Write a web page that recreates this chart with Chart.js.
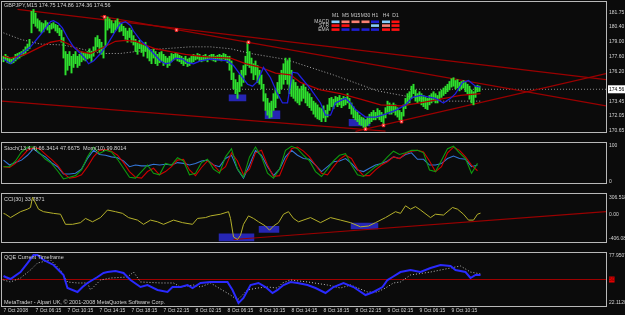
<!DOCTYPE html>
<html><head><meta charset="utf-8">
<script src="https://cdn.jsdelivr.net/npm/chart.js@4.4.1/dist/chart.umd.min.js"></script>
<style>
html,body{margin:0;padding:0;background:#0b0b0b;}
body{width:625px;height:315px;overflow:hidden;position:relative}
canvas{position:absolute;left:0;display:block}
</style></head><body>
<canvas id="cMain" width="625" height="142" style="top:0px;width:625px;height:142px"></canvas>
<canvas id="cStoch" width="625" height="51" style="top:142px;width:625px;height:51px"></canvas>
<canvas id="cCci" width="625" height="59" style="top:193px;width:625px;height:59px"></canvas>
<canvas id="cQqe" width="625" height="63" style="top:252px;width:625px;height:63px"></canvas>
<script>
// ---------------- DATA ----------------
const symbolTitle = 'GBPJPY,M15 174.75 174.86 174.36 174.56';
const lastPrice = 174.56;
const timeTickBars = [0,16,32,48,64,80,96,112,128,144,160,176,192,208,224];
const timeLabels = ['7 Oct 2008','7 Oct 06:15','7 Oct 10:15','7 Oct 14:15','7 Oct 18:15','7 Oct 22:15','8 Oct 02:15','8 Oct 06:15','8 Oct 10:15','8 Oct 14:15','8 Oct 18:15','8 Oct 22:15','9 Oct 02:15','9 Oct 06:15','9 Oct 10:15'];
const priceTicks = [170.65,172.05,173.45,174.56,176.20,177.60,179.00,180.40,181.75];

const highs = [
177.65,177.83,177.65,177.48,177.39,177.56,177.83,177.91,178.00,178.09,
178.26,178.53,178.79,179.23,181.85,182.03,181.68,181.15,180.98,180.80,
180.71,180.98,180.80,180.54,180.71,180.80,180.63,180.54,180.28,180.10,
179.40,178.09,177.83,178.09,177.65,177.83,178.09,177.65,177.83,178.09,
178.00,177.91,178.09,178.35,178.09,178.53,179.40,179.58,179.23,178.96,
178.53,181.15,181.33,181.15,180.98,180.71,180.98,181.15,180.80,180.71,
180.45,180.28,180.01,180.28,180.10,179.58,179.23,178.96,179.14,178.88,
178.70,178.96,178.53,178.26,178.09,178.35,178.09,177.83,178.00,178.09,
177.83,177.65,177.48,177.65,177.91,177.83,178.00,177.91,177.74,177.65,
177.48,177.65,177.39,177.48,177.65,177.83,177.74,177.91,177.83,177.65,
177.74,177.83,177.65,177.74,177.83,177.83,177.65,177.74,177.83,177.74,
177.91,177.83,177.65,177.65,177.21,176.08,175.46,175.20,175.90,176.34,
176.78,177.65,178.96,178.09,177.48,176.95,177.21,176.78,176.34,175.90,
175.03,174.15,173.71,173.28,173.45,174.15,174.59,175.20,175.90,176.34,
176.95,177.48,177.21,177.48,176.34,175.46,175.20,174.85,174.59,174.85,
175.03,174.76,174.33,174.15,173.80,173.45,173.28,173.10,172.84,172.75,
173.01,172.58,173.10,173.71,173.80,173.63,173.89,173.80,173.98,173.71,
173.89,173.80,174.15,173.71,173.28,172.93,172.58,172.40,172.14,171.96,
171.88,171.70,171.96,172.23,172.40,172.58,172.40,172.75,172.58,172.40,
172.23,172.84,173.45,173.28,173.10,173.28,173.10,172.84,172.58,172.40,
173.10,173.71,174.15,174.33,174.85,175.03,174.50,174.15,174.33,174.15,
173.98,173.80,173.71,173.98,174.15,174.33,174.15,173.98,174.33,174.50,
174.68,174.85,175.03,175.29,175.55,175.64,175.38,175.46,175.20,175.29,
175.38,175.20,175.03,174.85,174.50,174.33,174.85,174.94,174.86];
const lows = [
177.13,177.30,177.04,176.95,176.95,177.04,177.21,177.39,177.48,177.65,
177.74,177.91,178.18,178.35,179.84,180.71,180.45,180.28,180.01,179.84,
179.93,180.28,180.10,179.84,180.19,180.28,180.01,179.84,179.58,178.96,
177.48,175.90,176.34,176.78,176.08,176.60,176.95,176.60,176.78,177.13,
177.30,177.21,177.39,177.48,177.13,177.65,178.09,178.53,178.00,177.83,
177.48,178.53,180.10,180.28,179.84,179.84,180.10,180.28,179.93,180.01,
179.58,179.23,178.96,179.40,178.96,178.70,178.09,177.83,178.35,178.00,
177.65,178.09,177.48,177.21,176.95,177.48,176.95,176.78,177.04,177.21,
176.78,176.95,176.60,176.78,177.13,177.30,177.39,177.21,177.13,176.95,
176.78,176.95,176.69,176.78,177.04,177.13,177.30,177.39,177.21,177.13,
177.21,177.30,177.13,177.39,177.30,177.21,177.13,177.30,177.30,177.21,
177.39,177.30,177.04,176.34,175.46,174.59,174.15,173.71,174.33,174.85,
175.20,175.90,176.78,176.60,176.08,175.46,175.90,175.20,175.03,174.59,
173.45,172.58,172.14,171.88,171.96,172.58,172.84,173.71,174.15,174.59,
175.03,175.46,175.03,174.15,173.89,173.71,173.45,173.28,173.10,173.45,
173.71,173.28,173.01,172.84,172.58,172.23,171.96,171.79,171.70,171.53,
171.88,171.53,171.96,172.58,172.93,172.75,173.10,172.93,173.10,172.84,
173.01,173.10,173.28,172.75,172.23,171.88,171.70,171.53,171.26,171.18,
171.00,170.83,171.18,171.35,171.53,171.70,171.70,171.88,171.70,171.53,
171.26,171.88,172.40,172.23,172.23,172.40,172.14,171.96,171.70,171.53,
172.05,172.75,173.10,173.28,173.71,174.15,173.45,173.28,173.45,173.10,
172.93,172.75,172.66,173.10,173.28,173.45,173.28,173.28,173.63,173.80,
173.98,174.15,174.33,174.50,174.76,174.85,174.59,174.68,174.41,174.59,
174.68,174.33,174.15,173.63,173.28,173.10,173.80,174.33,174.36];

// moving averages: bar positions and values
const fastMaBars = [0,3.5,8.5,13.5,18.5,23.5,25,27.5,29.5,32,35,38.5,41,42.5,45,48.5,52,56,58.5,61,63.5,65,68.5,72,75,78.5,81,83.5,86,89.5,92,95,98.5,103.5,112,115,118.5,122,124.5,127,130,133.5,137,139.5,142,144.5,147,148.5,153.5,158.5,161,163.5,166,171,173.5,176,181,186,191,196,201,204.5,208.5,211,216,220,223.5,226,229.5,232.5,236,238.5];
const fastMa = [177.39,176.95,177.83,178.53,179.66,180.89,180.98,180.71,180.28,179.40,178.53,177.91,177.39,176.95,177.21,177.91,178.79,180.01,180.71,180.89,180.54,180.01,179.14,178.53,177.91,177.21,176.95,177.04,177.48,177.39,177.04,176.95,177.21,177.39,177.21,176.78,175.90,175.03,174.85,175.29,176.60,175.64,174.15,173.28,173.28,176.16,176.08,175.73,174.59,173.28,172.14,172.14,173.28,173.71,173.28,172.66,171.96,171.96,172.23,172.58,173.10,173.80,173.98,173.89,173.71,173.28,173.71,174.15,175.20,175.38,174.85,174.76];
const midMaBars = [0,3.5,11,18.5,23.5,28.5,33.5,38.5,43.5,48.5,56,61,66,71,76,83.5,91,98.5,103.5,113.5,121,128.5,136,143.5,148.5,158.5,168.5,178.5,188.5,198.5,208.5,218.5,228.5,238.5];
const midMa = [177.65,177.48,177.83,178.53,178.96,179.14,178.70,178.09,177.91,178.35,179.05,179.14,179.05,178.70,178.35,178.09,177.83,177.65,177.56,177.48,176.95,176.60,176.08,175.90,175.20,174.50,174.15,173.63,173.10,173.01,173.28,173.63,173.98,174.15];
const slowMaBars = [0,8.5,18.5,30,38.5,48.5,58.5,73.5,93.5,103.5,113.5,123.5,140,143.5,165,187,202,213.5,220,238.5];
const slowMa = [179.84,179.23,178.79,178.70,178.35,177.91,177.91,178.26,178.53,178.53,178.35,177.91,177.39,177.21,175.90,174.41,173.89,173.54,173.45,173.45];

// trend lines on price (start bar, start value, end bar, end value)
const trendStartBar = [7,48.5,-0.75,176];
const trendStartVal = [182.03,181.41,173.45,170.62];
const trendEndBar = [301.25,301.25,191,301.25];
const trendEndVal = [175.46,173.01,170.65,176.02];

// highlighted zones on price
const zoneStart = [112.5,130.5,172.5];
const zoneEnd = [121.5,138.5,183.5];
const zoneTop = [174.06,172.58,171.79];
const zoneBottom = [173.45,171.79,171.09];

// signal dots
const dotBars = [50.5,86.5,122.5,181,190,199];
const dotVals = [181.33,180.10,178.96,170.83,171.18,171.53];

// Stochastic / momentum, one value every 3 bars
const OSC_STEP = 3;
const stochMain = [
40.9,40.9,56.8,81.8,95.5,95.5,79.5,61.4,50.0,29.5,
6.8,11.4,15.9,31.8,68.2,95.5,77.3,86.4,81.8,61.4,
36.4,11.4,9.1,27.3,45.5,22.7,18.2,50.0,45.5,65.9,
56.8,18.2,22.7,52.3,61.4,34.1,22.7,68.2,90.9,34.1,
11.4,68.2,95.5,68.2,22.7,9.1,34.1,86.4,97.7,90.9,
72.7,56.8,27.3,13.6,34.1,56.8,72.7,77.3,45.5,18.2,
13.6,27.3,40.9,50.0,68.2,84.1,75.0,79.5,86.4,86.4,
79.5,31.8,27.3,59.1,90.9,97.7,79.5,63.6,22.7,50.0];
const stochSignal = [
40.9,38.6,50.0,68.2,86.4,93.2,90.9,75.0,61.4,45.5,
22.7,9.1,11.4,18.2,40.9,68.2,86.4,88.6,84.1,72.7,
52.3,27.3,11.4,9.1,27.3,36.4,18.2,27.3,40.9,59.1,
61.4,31.8,15.9,38.6,56.8,45.5,27.3,40.9,79.5,56.8,
18.2,34.1,79.5,86.4,45.5,13.6,15.9,56.8,90.9,95.5,
84.1,68.2,45.5,22.7,18.2,40.9,61.4,72.7,63.6,34.1,
15.9,15.9,31.8,45.5,54.5,68.2,63.6,77.3,84.1,86.4,
81.8,56.8,27.3,40.9,79.5,95.5,86.4,68.2,45.5,29.5];
const momentum = [
59.1,45.5,52.3,59.1,72.7,90.9,77.3,68.2,52.3,40.9,
20.5,20.5,22.7,34.1,63.6,86.4,75.0,72.7,68.2,65.9,
56.8,40.9,45.5,43.2,43.2,47.7,45.5,47.7,45.5,52.3,
50.0,45.5,50.0,56.8,59.1,45.5,40.9,63.6,72.7,34.1,
9.1,45.5,86.4,72.7,40.9,15.9,34.1,68.2,86.4,72.7,
63.6,61.4,45.5,27.3,40.9,54.5,56.8,63.6,50.0,31.8,
27.3,36.4,45.5,50.0,56.8,68.2,63.6,75.0,79.5,61.4,
61.4,45.5,45.5,50.0,63.6,70.5,63.6,61.4,40.9,45.5];

// CCI
const cciBars = [0,1,3.5,8.5,12,13.5,14.5,15,17.5,20,25,28.5,31,34.5,38.5,41,44.5,48.5,52,56,59.5,62.5,67,70,73.5,77,80,85,89.5,94.5,97,101,103.5,108.5,112.5,113.5,115,117,118.5,120,122.5,125,127.5,131,133,135,137.5,140,142.5,145,147.5,153.5,158.5,163.5,168.5,173.5,178.5,182.5,186,191,196,198.5,201,203.5,206,208.5,213.5,216,220,224.5,227,230,232.5,235,237,238.5];
const cci = [30.2,15.7,-42.5,59.3,102.9,132.0,306.5,277.4,102.9,59.3,30.2,15.7,-158.8,-158.8,-129.7,-57.0,-115.2,-42.5,88.4,59.3,30.2,-42.5,-86.1,-158.8,-86.1,-115.2,-158.8,-86.1,-129.7,-158.8,-57.0,-42.5,-13.4,15.7,59.3,-57.0,-376.9,-420.5,-347.8,-158.8,-13.4,-57.0,-115.2,-187.9,-260.6,-187.9,-129.7,15.7,59.3,-57.0,-115.2,-42.5,-129.7,-42.5,-86.1,-129.7,-202.4,-187.9,-129.7,-42.5,59.3,30.2,161.1,102.9,146.6,88.4,-42.5,15.7,1.2,132.0,102.9,15.7,-86.1,-86.1,15.7,33.8];
const cciTicks = [306.518,0,-406.081];
const cciTickLabels = ['306.5180','0.00','-406.0810'];
const cciZoneStart = [107.5,127.5,173.5];
const cciZoneEnd = [125.5,138,187.5];
const cciZoneTop = [-318.7,-187.9,-129.7];
const cciZoneBottom = [-449.6,-304.2,-246.0];
const cciTrendBars = [115,301.25];
const cciTrendVals = [-420.5,59.3];

// QQE
const qqeBars = [0,1,3.5,8.5,12,15,17,20,25,30,32,34.5,37,39.5,42,47,50,52,56,60,63.5,68.5,72,77,82,84.5,88.5,92,94.5,98.5,103.5,112,114.5,117.5,120,123.5,127.5,131,134.5,137,140,143.5,147,152,156,161,165,170,175,181,185,189.5,192,194.5,198.5,203.5,208.5,213.5,218.5,223.5,226,231,233.5,236,238.5];
const qqe = [54.2,53.0,50.6,58.9,69.6,79.1,79.1,73.2,67.3,55.4,39.9,37.6,35.2,41.1,45.9,53.0,57.8,58.9,60.1,57.8,49.4,41.1,43.5,37.6,35.2,41.1,41.1,43.5,39.9,45.9,47.1,47.1,37.6,22.1,28.1,43.5,45.9,41.1,34.0,37.6,43.5,47.1,45.9,43.5,39.9,34.0,41.1,45.9,41.1,31.6,35.2,41.1,49.4,53.0,58.9,61.3,58.9,63.7,67.3,66.1,61.3,58.9,51.8,55.4,55.4];
const qqeSlowBars = [0,3.5,8.5,13.5,17,23.5,28.5,32,37,42,43.5,48.5,53.5,62,65,68.5,78.5,85,88.5,95,98.5,103.5,113.5,117,122,127,132,137,139.5,143.5,152,162,168.5,173.5,182,187,191,195,198.5,203.5,213.5,223.5,228.5,233.5,238.5];
const qqeSlow = [49.4,47.1,51.8,61.3,69.6,73.2,61.3,47.1,45.9,45.9,37.6,49.4,51.8,53.0,58.9,47.1,45.9,45.9,41.1,43.5,41.1,45.9,31.6,25.7,37.6,39.9,41.1,39.9,45.9,49.4,47.1,43.5,39.9,43.5,35.2,35.2,39.9,45.9,47.1,55.4,58.9,63.7,66.1,58.9,56.6];
const qqeLevel = 50;
const qqeTicks = [77.9507,50,22.112];
const qqeTickLabels = ['77.9507','50','22.1120'];

// multi-timeframe table
const mtfPeriods = ['M1','M5','M15','M30','H1','H4','D1'];
const mtfRows = ['MACD','STR','EMA'];
const mtfStates = [
  ['lb','sa','sa','sa','bl','lb','rd'],
  ['rd','rd','','','lb','sa','rd'],
  ['rd','bl','bl','bl','bl','rd','rd']];

// ---------------- STYLE / LAYOUT ----------------
const BG = '#0b0b0b', FRAME = '#b8b8b8', TXT = '#d4d4d4';
const FF = '"Liberation Sans", Arial, sans-serif';
const FS = 5;
const X_MIN = -0.75, X_MAX = 301.25;
const stateColor = {lb:'#87cefa', sa:'#fa8072', rd:'#ff1010', bl:'#1f1fd0'};

const pts = (xs, ys) => xs.map((x, k) => ({x, y: ys[k]}));
const gridPts = (ys, step) => ys.map((y, k) => ({x: k * step, y}));
const seg = (x1, y1, x2, y2) => [{x: x1, y: y1}, {x: x2, y: y2}];

const bgFrame = {
  id: 'bgFrame',
  beforeDraw(chart) {
    const c = chart.ctx; c.save(); c.fillStyle = BG; c.fillRect(0, 0, chart.width, chart.height); c.restore();
  },
  afterDraw(chart) {
    const c = chart.ctx, a = chart.chartArea; c.save();
    c.strokeStyle = FRAME; c.lineWidth = 1;
    c.strokeRect(a.left - 0.5, a.top - 0.5, a.right - a.left + 1, a.bottom - a.top + 1);
    c.restore();
  }
};
const panelText = {
  id: 'panelText',
  afterDraw(chart, args, opts) {
    const c = chart.ctx; c.save();
    c.font = '5.5px ' + FF; c.textBaseline = 'middle';
    (opts.items || []).forEach(it => { c.fillStyle = it.color || TXT; c.textAlign = it.align || 'left'; c.fillText(it.text, it.x, it.y); });
    if (opts.mtf) {
      const colX = [335.5,345.5,355.5,365.5,375,386,395.5];
      const rowY = [21.7,25.5,29.5];
      c.font = '5px ' + FF;
      c.textAlign = 'center'; c.fillStyle = '#c8c8c8';
      mtfPeriods.forEach((p, k) => c.fillText(p, colX[k], 16));
      c.textAlign = 'right';
      mtfRows.forEach((r, k) => c.fillText(r, 329, rowY[k]));
      mtfStates.forEach((row, r) => row.forEach((s, k) => {
        if (!s) return;
        c.fillStyle = stateColor[s];
        c.fillRect(colX[k] - 4, rowY[r] - 1.2, 8, 2.6);
      }));
    }
    c.restore();
  }
};

function xAxis(display) {
  return {
    type: 'linear', min: X_MIN, max: X_MAX, offset: false, display,
    grid: {display: false, drawTicks: false}, border: {display: false},
    afterBuildTicks: s => { s.ticks = timeTickBars.map(v => ({value: v})); },
    afterFit: s => { s.height = 9; s.paddingLeft = 0; s.paddingRight = 0; },
    ticks: {autoSkip: false, maxRotation: 0, align: 'start', padding: 2, color: TXT,
      font: {family: FF, size: FS}, callback: (v, i) => timeLabels[i]}
  };
}
function yAxis(min, max, tickVals, labelFn, extra) {
  return {
    type: 'linear', position: 'right', min, max,
    grid: {display: false, drawTicks: false}, border: {display: false},
    afterBuildTicks: s => { s.ticks = tickVals.map(v => ({value: v})); },
    afterFit: s => { s.width = 19; s.paddingTop = 0; s.paddingBottom = 0; },
    ticks: Object.assign({autoSkip: false, padding: 3, color: TXT, font: {family: FF, size: FS},
      callback: labelFn}, extra || {})
  };
}
const baseOpts = (pad, scales, plugins) => ({
  responsive: false, animation: false, events: [],
  layout: {padding: pad, autoPadding: false},
  scales,
  plugins: Object.assign({legend: {display: false}, tooltip: {enabled: false}}, plugins),
  elements: {point: {radius: 0}, line: {tension: 0}}
});
const lineDs = (data, color, width, order, extra) => Object.assign({type: 'line', data, borderColor: color, borderWidth: width, pointRadius: 0, fill: false, order}, extra || {});

// ---------------- MAIN PRICE PANEL ----------------
const mainDatasets = [];
zoneStart.forEach((s, k) => mainDatasets.push(lineDs(seg(s, zoneTop[k], zoneEnd[k], zoneTop[k]), 'rgba(0,0,0,0)', 0, 30,
  {fill: {value: zoneBottom[k]}, backgroundColor: '#2626b4'})));
mainDatasets.push(lineDs(seg(X_MIN, lastPrice, X_MAX, lastPrice), '#8a8a8a', 1, 25, {borderDash: [1, 2]}));
trendStartBar.forEach((s, k) => mainDatasets.push(lineDs(seg(s, trendStartVal[k], trendEndBar[k], trendEndVal[k]), '#9a0000', 1.2, 20)));
mainDatasets.push(lineDs(pts(slowMaBars, slowMa), '#a8a8a8', 1, 18, {borderDash: [1, 2]}));
mainDatasets.push({type: 'bar', data: highs.map((h, k) => ({x: k, y: [lows[k], h]})), backgroundColor: '#2ee02e',
  barThickness: 1.3, borderWidth: 0, order: 10, grouped: false});
mainDatasets.push(lineDs(pts(midMaBars, midMa), '#b00000', 1.3, 5));
mainDatasets.push(lineDs(pts(fastMaBars, fastMa), '#2020e0', 1.3, 4));
mainDatasets.push(lineDs(pts(dotBars, dotVals), 'rgba(0,0,0,0)', 0, 1,
  {showLine: false, pointRadius: 1.8, pointStyle: 'rect', pointBackgroundColor: '#ffc8c8', pointBorderColor: '#ff2020', pointBorderWidth: 1}));

new Chart(document.getElementById('cMain'), {
  type: 'line',
  data: {datasets: mainDatasets},
  options: baseOpts({left: 2, right: 0, top: 2, bottom: 1}, {
    x: xAxis(false),
    y: yAxis(170.5625, 182.725, priceTicks, v => v.toFixed(2), {
      showLabelBackdrop: c => c.tick && c.tick.value === lastPrice,
      backdropColor: c => (c.tick && c.tick.value === lastPrice) ? '#ffffff' : 'rgba(0,0,0,0)',
      backdropPadding: {top: 1, bottom: 1, left: 1, right: 2},
      color: c => (c.tick && c.tick.value === lastPrice) ? '#000000' : TXT
    })
  }, {panelText: {items: [{text: symbolTitle, x: 4, y: 5}], mtf: true}}),
  plugins: [bgFrame, panelText]
});

// ---------------- STOCHASTIC PANEL ----------------
new Chart(document.getElementById('cStoch'), {
  type: 'line',
  data: {datasets: [
    lineDs(gridPts(momentum, OSC_STEP), '#3476d6', 1.1, 3),
    lineDs(gridPts(stochSignal, OSC_STEP), '#d00000', 1.1, 2),
    lineDs(gridPts(stochMain, OSC_STEP), '#0f9a0f', 1.1, 1)
  ]},
  options: baseOpts({left: 2, right: 0, top: 1, bottom: 1}, {
    x: xAxis(false),
    y: yAxis(-4.55, 106.82, [0, 100], v => String(v))
  }, {panelText: {items: [{text: 'Stoch(13,4,4) 66.3414 47.6675  Mom(10) 99.8014', x: 4, y: 6}]}}),
  plugins: [bgFrame, panelText]
});

// ---------------- CCI PANEL ----------------
const cciDatasets = [];
cciZoneStart.forEach((s, k) => cciDatasets.push(lineDs(seg(s, cciZoneTop[k], cciZoneEnd[k], cciZoneTop[k]), 'rgba(0,0,0,0)', 0, 30,
  {fill: {value: cciZoneBottom[k]}, backgroundColor: '#2626b4'})));
cciDatasets.push(lineDs(pts(cciTrendBars, cciTrendVals), '#9a0000', 1.2, 20));
cciDatasets.push(lineDs(pts(cciBars, cci), '#b4b02a', 1, 5));
new Chart(document.getElementById('cCci'), {
  type: 'line',
  data: {datasets: cciDatasets},
  options: baseOpts({left: 2, right: 0, top: 1, bottom: 1}, {
    x: xAxis(false),
    y: yAxis(-464.1, 364.7, cciTicks, (v, i) => cciTickLabels[i])
  }, {panelText: {items: [{text: 'CCI(30) 33.7871', x: 4, y: 6}]}}),
  plugins: [bgFrame, panelText]
});

// ---------------- QQE PANEL ----------------
new Chart(document.getElementById('cQqe'), {
  type: 'line',
  data: {datasets: [
    lineDs(seg(X_MIN, qqeLevel, X_MAX, qqeLevel), '#a00000', 1, 10),
    lineDs(pts(qqeSlowBars, qqeSlow), '#bcbcbc', 1, 5, {borderDash: [1, 2]}),
    lineDs(pts(qqeBars, qqe), '#2a2aff', 2, 1)
  ]},
  options: baseOpts({left: 2, right: 0, top: 1, bottom: 0}, {
    x: xAxis(true),
    y: yAxis(18.55, 81.51, qqeTicks, (v, i) => qqeTickLabels[i], {
      showLabelBackdrop: c => c.tick && c.tick.value === qqeLevel,
      backdropColor: c => (c.tick && c.tick.value === qqeLevel) ? '#e00000' : 'rgba(0,0,0,0)',
      backdropPadding: {top: 0, bottom: 0, left: 0, right: 0},
      color: c => (c.tick && c.tick.value === qqeLevel) ? '#700000' : TXT
    })
  }, {panelText: {items: [
    {text: 'QQE Current Timeframe', x: 4, y: 5},
    {text: 'MetaTrader - Alpari UK, \u00a9 2001-2008 MetaQuotes Software Corp.', x: 4, y: 50}
  ]}}),
  plugins: [bgFrame, panelText]
});
</script>
</body></html>
